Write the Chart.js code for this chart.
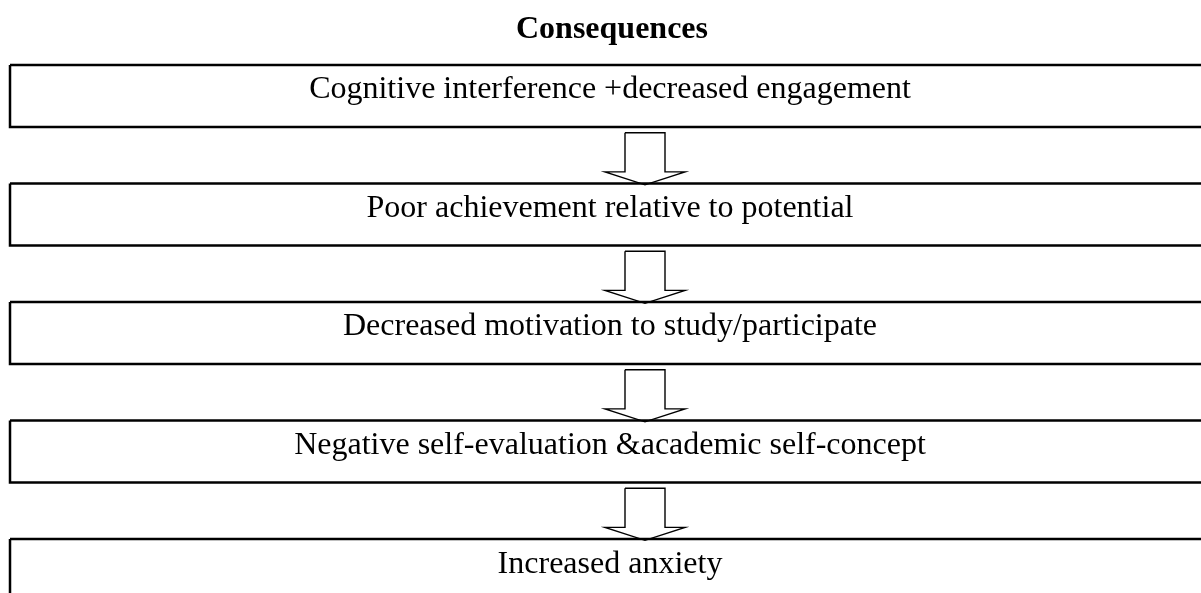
<!DOCTYPE html>
<html>
<head>
<meta charset="utf-8">
<script src="https://cdn.jsdelivr.net/npm/chart.js@4/dist/chart.umd.min.js"></script>
<style>
  html, body { margin: 0; padding: 0; background: #ffffff; }
  #wrap { width: 1201px; height: 593px; position: relative; }
</style>
</head>
<body>
<div id="wrap"><canvas id="flowChart"></canvas></div>
<script>
// Contenu du schéma
const chartTitle = 'Consequences';
const steps = [
    'Cognitive interference +decreased engagement',
    'Poor achievement relative to potential',
    'Decreased motivation to study/participate',
    'Negative self-evaluation &academic self-concept',
    'Increased anxiety'
];
// niveau de chaque étape sur l'axe vertical (0 = haut)
const stepLevels = [0, 1, 2, 3, 4];

// Mise en page (unités des axes : x en pixels, y en étapes)
const boxLeft = 10, boxRight = 1215, boxHalf = 0.262;
const textX = 610, titleX = 612, titleLevel = -0.49;
const arrowX = 645, shaftHalf = 20, wingHalf = 40;
const shaftTop = 0.31, headBase = 0.64, headTip = 0.75;

// Une boîte = polyligne fermée
const boxDatasets = stepLevels.map((lv) => ({
    data: [
        { x: boxLeft, y: lv - boxHalf },
        { x: boxRight, y: lv - boxHalf },
        { x: boxRight, y: lv + boxHalf },
        { x: boxLeft, y: lv + boxHalf },
        { x: boxLeft, y: lv - boxHalf }
    ],
    borderColor: '#000000',
    borderWidth: 2.5,
    borderJoinStyle: 'miter',
    pointRadius: 0,
    showLine: true,
    fill: false,
    tension: 0
}));

// Flèches creuses entre les boîtes
const arrowDatasets = stepLevels.slice(0, -1).map((lv) => ({
    data: [
        { x: arrowX - shaftHalf, y: lv + shaftTop },
        { x: arrowX + shaftHalf, y: lv + shaftTop },
        { x: arrowX + shaftHalf, y: lv + headBase },
        { x: arrowX + wingHalf, y: lv + headBase },
        { x: arrowX, y: lv + headTip },
        { x: arrowX - wingHalf, y: lv + headBase },
        { x: arrowX - shaftHalf, y: lv + headBase },
        { x: arrowX - shaftHalf, y: lv + shaftTop }
    ],
    borderColor: '#000000',
    borderWidth: 1.4,
    borderJoinStyle: 'miter',
    pointRadius: 0,
    showLine: true,
    fill: false,
    tension: 0
}));

// Textes : titre + libellés des boîtes
const textPlugin = {
    id: 'stepText',
    afterDatasetsDraw(chart) {
        const ctx = chart.ctx;
        const xs = chart.scales.x, ys = chart.scales.y;
        ctx.save();
        ctx.fillStyle = '#000000';
        ctx.textAlign = 'center';
        ctx.textBaseline = 'alphabetic';
        ctx.font = 'bold 32px "Liberation Serif"';
        ctx.fillText(chartTitle, xs.getPixelForValue(titleX), ys.getPixelForValue(titleLevel));
        ctx.font = '32px "Liberation Serif"';
        steps.forEach((s, i) => {
            ctx.fillText(s, xs.getPixelForValue(textX), ys.getPixelForValue(stepLevels[i]) + 2.5);
        });
        ctx.restore();
    }
};

const ctxFlow = document.getElementById('flowChart').getContext('2d');
new Chart(ctxFlow, {
    type: 'scatter',
    data: { datasets: [...boxDatasets, ...arrowDatasets] },
    options: {
        responsive: true,
        maintainAspectRatio: false,
        animation: false,
        events: [],
        layout: { padding: 0 },
        plugins: {
            legend: { display: false },
            tooltip: { enabled: false },
            title: { display: false }
        },
        scales: {
            x: { type: 'linear', min: 0, max: 1201, display: false },
            y: { type: 'linear', reverse: true, min: -0.81, max: 4.194, display: false }
        }
    },
    plugins: [textPlugin]
});
</script>
</body>
</html>
